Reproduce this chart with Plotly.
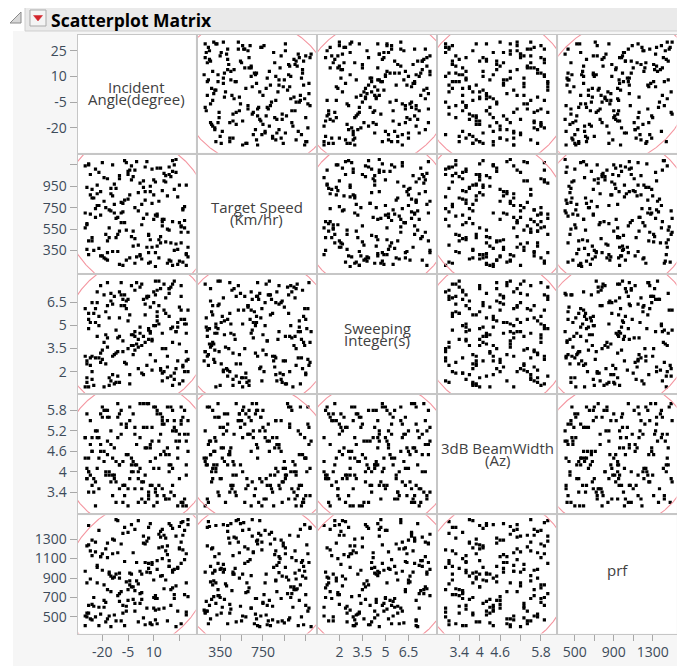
import numpy as np
import plotly.graph_objects as go

# ---------------- data (read/estimated from the reference) ----------------
variable_names = [["Incident", "Angle(degree)"], ["Target Speed", "(Km/hr)"],
                  ["Sweeping", "Integer(s)"], ["3dB BeamWidth", "(Az)"], ["prf"]]

incident_angle = [-28, 14, 3, -17, 25, -9, 7, -22, 19, -4, 29, -13, 10, -26, 1, 22, -7, 16, -19, 5,
                  -30, 12, -2, 27, -15, 8, -24, 20, -11, 2, 24, -6, 17, -29, 11, -18, 28, -1, 6, -21,
                  15, -10, 26, -27, 9, -14, 21, -3, 13, -23, 30, -8, 4, -16, 18, -25, 0, 23, -12, 8,
                  -20, 27, -5, 14, -29, 10, -17, 3, 25, -9, 19, -26, 6, -13, 29, -2, 16, -22, 11, -7,
                  22, -28, 1, -15, 18, -4, 26, -19, 7, -11, 13, -24, 28, -6, 4, -18, 21, -1, 9, -27,
                  17, -10, 24, -14, 2, -21, 12, -30, 20, -8, 15, -3, 27, -16, 5, -25, 23, -12, 10, -20,
                  29, -5, 18, -23, 3, -9, 14, -28, 25, -15, 7, -1, 19, -18, 12, -26, 22, -11, 0, -7,
                  16, -22, 26, -4, 8, -13, 21, -29, 11, -17, -3, 8, 15, -10, 2, -30, 30,
                  -24, 6, 19, -12, 28, -2, 11, -27, 23, -16, 4, -8, 17, 30, -19, 9, -29, 13, -5, 26,
                  -21, 1, 20, -14, 7, -26, 24, -10, 15, -1, 29, -23, 5, -17, 12, -28, 21, -6]
target_speed = [1150, 420, 780, 260, 960, 610, 330, 1080, 540, 870, 210, 700, 1010, 470, 890, 350, 1190, 640, 280, 820,
                560, 1120, 390, 730, 930, 240, 660, 1040, 500, 310, 850, 1170, 430, 600, 990, 270, 760, 1100, 380, 680,
                910, 220, 520, 1060, 790, 340, 620, 1140, 450, 880, 290, 710, 1000, 560, 230, 840, 1180, 410, 650, 950,
                300, 740, 1090, 480, 360, 870, 1020, 590, 250, 800, 1130, 440, 690, 970, 320, 530, 1070, 770, 200, 610,
                920, 1160, 400, 720, 860, 280, 570, 1030, 490, 340, 810, 1110, 630, 260, 940, 750, 1190, 460, 380, 690,
                1050, 530, 220, 860, 980, 300, 670, 1140, 420, 790, 580, 1010, 240, 730, 900, 350, 1080, 470, 640, 1170,
                310, 830, 550, 960, 270, 700, 1120, 440, 610, 880, 230, 750, 1060, 500, 390, 920, 1150, 660, 290, 820,
                1000, 370, 580, 1100, 450, 780, 210, 940, 680, 330, 480, 900, 640, 1050, 300, 700, 520,
                740, 1180, 260, 930, 560, 1040, 330, 870, 1200, 470, 650, 210, 990, 380, 810, 1110, 590, 280, 1060, 420,
                900, 720, 250, 1150, 500, 840, 360, 1020, 620, 230, 960, 770, 1130, 440, 690, 310, 1090, 540]
sweeping_integer = [5.4, 2.1, 7.7, 3.6, 1.2, 6.3, 4.8, 2.9, 7.1, 1.8, 3.3, 6.9, 5.0, 1.5, 4.1, 7.9, 2.6, 6.0, 3.9, 5.7,
                    1.0, 7.3, 4.4, 2.3, 6.6, 3.1, 5.2, 7.5, 1.7, 4.9, 2.7, 6.1, 3.5, 1.3, 7.0, 5.9, 2.0, 4.6, 6.8, 3.2,
                    1.9, 5.5, 7.6, 2.4, 4.0, 6.4, 1.1, 3.7, 5.1, 7.2, 2.8, 6.7, 4.3, 1.6, 3.0, 5.8, 7.8, 2.2, 4.7, 6.2,
                    3.4, 1.4, 5.3, 7.4, 2.5, 6.5, 4.2, 1.9, 3.8, 7.0, 5.6, 2.0, 6.9, 1.2, 4.5, 3.1, 7.7, 5.0, 2.7, 6.3,
                    1.5, 4.8, 3.6, 7.1, 2.3, 5.7, 6.0, 1.0, 4.1, 3.3, 7.9, 2.9, 5.4, 6.6, 1.8, 4.4, 3.9, 7.3, 2.1, 5.2,
                    6.8, 1.3, 4.9, 3.0, 7.5, 2.6, 5.9, 6.1, 1.7, 4.0, 3.5, 7.6, 2.4, 5.5, 6.4, 1.1, 4.6, 3.2, 7.2, 2.8,
                    5.1, 6.7, 1.6, 4.3, 3.7, 7.8, 2.2, 5.8, 6.2, 1.4, 4.7, 3.4, 7.4, 2.5, 5.3, 6.5, 1.9, 4.2, 3.8, 7.0,
                    2.0, 5.6, 6.9, 1.2, 4.5, 3.1, 7.7, 2.7, 5.0, 6.3, 4.4, 4.6, 4.5, 4.3, 4.5, 3.0, 6.0,
                    6.1, 2.4, 7.4, 1.3, 5.1, 3.7, 7.9, 2.9, 4.6, 1.1, 6.7, 3.3, 5.8, 2.0, 7.0, 4.1, 1.6, 6.3, 3.5, 5.4,
                    7.6, 2.2, 4.8, 1.8, 6.9, 3.0, 5.2, 7.2, 1.4, 4.3, 2.7, 6.5, 3.9, 7.8, 5.6, 1.0, 4.9, 2.5]
beamwidth_az = [4.4, 5.7, 3.2, 4.9, 3.8, 5.1, 6.0, 3.5, 4.2, 5.5, 3.0, 4.7, 5.9, 3.6, 4.0, 5.3, 3.3, 4.6, 5.8, 3.9,
                5.0, 3.1, 4.3, 5.6, 3.7, 4.8, 5.2, 3.4, 6.0, 4.1, 3.0, 5.4, 4.5, 3.8, 5.9, 4.0, 3.2, 5.1, 4.7, 5.7,
                3.5, 4.2, 5.5, 3.9, 4.9, 3.3, 5.8, 4.4, 3.6, 5.0, 4.6, 3.1, 5.3, 4.0, 5.9, 3.4, 4.8, 5.2, 3.7, 4.3,
                5.6, 3.0, 4.5, 5.1, 3.8, 4.1, 5.8, 3.5, 4.9, 5.4, 3.2, 4.6, 6.0, 3.9, 4.2, 5.7, 3.3, 5.0, 4.4, 3.6,
                5.5, 4.0, 3.1, 5.2, 4.7, 3.8, 5.9, 4.3, 3.4, 5.6, 4.9, 3.0, 5.1, 4.5, 3.7, 5.8, 4.1, 3.5, 5.3, 4.8,
                3.2, 5.7, 4.4, 3.9, 6.0, 4.6, 3.3, 5.0, 4.2, 3.6, 5.4, 4.0, 3.1, 5.6, 4.7, 3.8, 5.2, 4.3, 3.0, 5.9,
                4.9, 3.5, 5.5, 4.1, 3.7, 5.8, 4.5, 3.4, 5.1, 4.8, 3.2, 5.3, 4.0, 3.9, 5.7, 4.6, 3.3, 5.0, 4.2, 3.6,
                5.4, 4.4, 3.1, 5.9, 4.7, 3.8, 5.2, 4.1, 3.5, 5.6, 4.2, 3.6, 5.5, 4.2, 5.0, 4.4, 5.5,
                3.7, 5.3, 4.5, 3.1, 5.8, 4.0, 3.4, 5.5, 4.9, 3.9, 6.0, 4.3, 3.2, 5.1, 4.6, 3.6, 5.7, 4.1, 3.0, 5.4,
                4.8, 3.8, 5.9, 4.4, 3.3, 5.0, 4.7, 3.5, 5.6, 4.2, 3.9, 5.2, 3.1, 4.5, 5.8, 4.0, 3.6, 5.3]
prf = [620, 1380, 940, 480, 1210, 760, 1050, 410, 1460, 870, 550, 1290, 700, 1130, 450, 990, 1420, 590, 830, 1250,
       510, 1080, 680, 1340, 920, 430, 1170, 780, 1490, 640, 1010, 560, 1310, 850, 470, 1200, 730, 1400, 960, 530,
       1100, 660, 1270, 890, 420, 1150, 800, 1450, 580, 1030, 710, 1360, 490, 940, 1230, 610, 1060, 820, 1500, 440,
       980, 1190, 670, 1320, 540, 880, 1110, 750, 1430, 460, 1020, 630, 1280, 910, 520, 1160, 790, 1390, 570, 1070,
       690, 1240, 840, 400, 1140, 950, 1470, 600, 1000, 720, 1350, 500, 1090, 860, 1260, 650, 1410, 770, 1040, 480,
       1180, 900, 560, 1300, 740, 1120, 430, 970, 1440, 620, 1220, 810, 1480, 510, 1060, 700, 1330, 940, 590, 1150,
       850, 1370, 460, 1010, 680, 1250, 920, 540, 1200, 760, 1420, 640, 1080, 450, 990, 1290, 730, 1160, 870, 410,
       1340, 600, 1050, 830, 1460, 520, 960, 1230, 690, 780, 940, 955, 925, 950, 970, 410, 1500,
       1270, 590, 1020, 460, 1390, 810, 720, 1180, 400, 960, 1330, 540, 880, 1450, 670, 1060, 500, 1210, 780, 430,
       1120, 1490, 620, 900, 1310, 470, 1000, 740, 1400, 560, 1150, 850, 420, 1260, 690, 1440, 980, 610]

axis_ranges = [[-34.5, 34.5], [140, 1245], [0.6, 8.3], [2.78, 6.25], [330, 1545]]
y_tickvals = [[-20, -5, 10, 25], [350, 550, 750, 950, 1150], [2, 3.5, 5, 6.5],
              [3.4, 4, 4.6, 5.2, 5.8], [500, 700, 900, 1100, 1300]]
y_ticktext = [["-20", "-5", "10", "25"], ["350", "550", "750", "950", ""], ["2", "3.5", "5", "6.5"],
              ["3.4", "4", "4.6", "5.2", "5.8"], ["500", "700", "900", "1100", "1300"]]
x_tickvals = y_tickvals
x_ticktext = [["-20", "-5", "10", ""], ["350", "", "750", "", ""], ["2", "3.5", "5", "6.5"],
              ["3.4", "4", "4.6", "", "5.8"], ["500", "", "900", "", "1300"]]

columns = [incident_angle, target_speed, sweeping_integer, beamwidth_az, prf]
n = min(len(c) for c in columns)
columns = [np.array(c[:n], dtype=float) for c in columns]

# ---------------- layout geometry (page pixels; page body has an 8px margin) ----------------
PAGE_W, PAGE_H = 685, 666
OFF = 8
W, H = PAGE_W - OFF, PAGE_H - OFF
X0, X1, Y0, Y1 = 77, 678, 34, 635
NV = 5
pitch_x = (X1 - X0) / NV
pitch_y = (Y1 - Y0) / NV


def fx(px):
    return (px - OFF) / W


def fy(py):
    return 1 - (py - OFF) / H


TICK_FONT = dict(family="Open Sans, Noto Sans, sans-serif", size=14, color="#3d4b5a")
LABEL_FONT = dict(family="Open Sans, Noto Sans, sans-serif", size=15, color="#404040")
BORDER = "#c6c6c6"
ELLIPSE = "rgb(244,150,160)"

fig = go.Figure()
layout_axes = {}
annotations = []

for r in range(NV):
    for c in range(NV):
        k = r * NV + c + 1
        xname = "x" if k == 1 else f"x{k}"
        yname = "y" if k == 1 else f"y{k}"
        left = X0 + c * pitch_x + 0.5
        right = X0 + (c + 1) * pitch_x - 1.5
        top = Y0 + r * pitch_y + 0.5
        bottom = Y0 + (r + 1) * pitch_y - 1.5
        xa = dict(domain=[fx(left), fx(right)], range=axis_ranges[c], showgrid=False, zeroline=False,
                  showline=True, mirror=True, linecolor=BORDER, linewidth=1, anchor=yname,
                  showticklabels=False, ticks="", fixedrange=True)
        ya = dict(domain=[fy(bottom), fy(top)], range=axis_ranges[r], showgrid=False, zeroline=False,
                  showline=True, mirror=True, linecolor=BORDER, linewidth=1, anchor=xname,
                  showticklabels=False, ticks="", fixedrange=True)
        if r == NV - 1:
            xa.update(showticklabels=True, ticks="outside", ticklen=6, tickcolor="#a8a8a8",
                      tickvals=x_tickvals[c], ticktext=x_ticktext[c], tickfont=TICK_FONT)
        if c == 0:
            ya.update(showticklabels=True, ticks="outside", ticklen=7, tickcolor="#a8a8a8",
                      tickvals=y_tickvals[r], ticktext=y_ticktext[r], tickfont=TICK_FONT)
        layout_axes["xaxis" if k == 1 else f"xaxis{k}"] = xa
        layout_axes["yaxis" if k == 1 else f"yaxis{k}"] = ya

        if r == c:
            fig.add_trace(go.Scatter(x=[None], y=[None], xaxis=xname, yaxis=yname,
                                     showlegend=False, hoverinfo="skip"))
            lines = variable_names[r]
            cx = (left + right) / 2
            cy = (top + bottom) / 2
            offs = [-4] if len(lines) == 1 else [-6.5, 5.5]
            for txt, off in zip(lines, offs):
                annotations.append(dict(x=fx(cx), y=fy(cy + off), xref="paper", yref="paper",
                                        text=txt, showarrow=False, font=LABEL_FONT, borderpad=0,
                                        xanchor="center", yanchor="middle"))
            continue

        xs = columns[c]
        ys = columns[r]
        fig.add_trace(go.Scatter(x=xs, y=ys, mode="markers", xaxis=xname, yaxis=yname,
                                 marker=dict(symbol="square", size=3.2, color="black", line=dict(width=0)),
                                 showlegend=False, hoverinfo="skip"))
        # 95% density ellipse (only its corner arcs show inside the frame)
        mean = np.array([xs.mean(), ys.mean()])
        cov = np.cov(np.vstack([xs, ys]))
        evals, evecs = np.linalg.eigh(cov)
        t = np.linspace(0, 2 * np.pi, 721)
        circ = np.vstack([np.cos(t), np.sin(t)])
        pts = mean[:, None] + evecs @ (np.sqrt(evals * 5.991)[:, None] * circ)
        fig.add_trace(go.Scatter(x=pts[0], y=pts[1], mode="lines", xaxis=xname, yaxis=yname,
                                 line=dict(color=ELLIPSE, width=1.1), showlegend=False, hoverinfo="skip"))

# ---------------- header / chrome ----------------
shapes = [
    dict(type="rect", xref="paper", yref="paper", x0=0, x1=fx(13), y0=0, y1=1,
         fillcolor="white", line=dict(width=0), layer="below"),
    dict(type="rect", xref="paper", yref="paper", x0=0, x1=1, y0=fy(31), y1=1,
         fillcolor="white", line=dict(width=0), layer="below"),
    dict(type="rect", xref="paper", yref="paper", x0=fx(25), x1=1, y0=fy(31), y1=fy(6),
         fillcolor="#eaeaea", line=dict(color="#cfcfcf", width=1), layer="below"),
    dict(type="path", xref="paper", yref="paper",
         path=f"M {fx(21)} {fy(12)} L {fx(21)} {fy(23)} L {fx(10)} {fy(23)} Z",
         fillcolor="#d8d8d8", line=dict(color="#8a8a8a", width=1)),
    dict(type="rect", xref="paper", yref="paper", x0=fx(30), x1=fx(46), y0=fy(26), y1=fy(10),
         fillcolor="#f4f4f4", line=dict(color="#a9a9a9", width=1)),
    dict(type="path", xref="paper", yref="paper",
         path=f"M {fx(33.5)} {fy(15.5)} L {fx(42.5)} {fy(15.5)} L {fx(38)} {fy(21)} Z",
         fillcolor="#d2232a", line=dict(color="#d2232a", width=0.5)),
]

annotations.append(dict(x=fx(50), y=fy(19.5), xref="paper", yref="paper", text="<b>Scatterplot Matrix</b>",
                        showarrow=False, xanchor="left", yanchor="middle", borderpad=0,
                        font=dict(family="Open Sans, Noto Sans, sans-serif", size=17.5, color="black")))

fig.update_layout(width=W, height=H, margin=dict(l=0, r=0, t=0, b=0),
                  paper_bgcolor="#f6f6f6", plot_bgcolor="white",
                  shapes=shapes, annotations=annotations, **layout_axes)

fig.write_html("out.html")
